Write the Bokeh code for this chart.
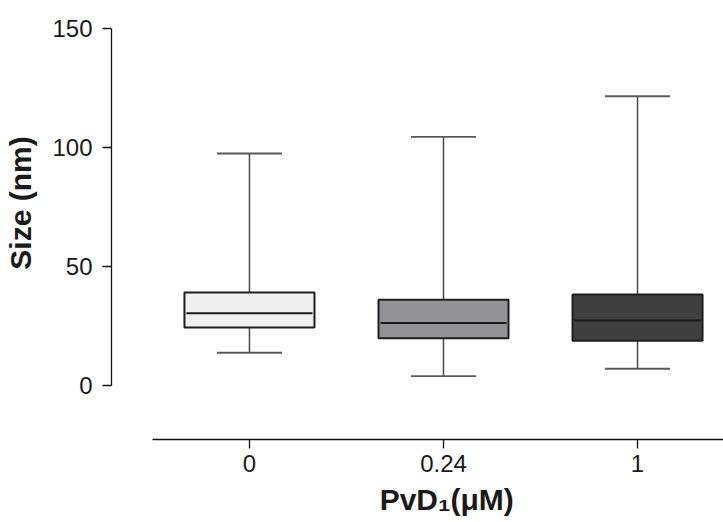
import numpy as np
from bokeh.plotting import figure
from bokeh.models import Range1d, ColumnDataSource, FixedTicker
from bokeh.embed import file_html
from bokeh.resources import INLINE

# ---- data ----
categories = ["0", "0.24", "1"]
whisker_low = [13.9, 4.1, 7.2]
q1 = [24.5, 20.0, 18.9]
median = [30.5, 26.4, 27.4]
q3 = [39.1, 36.1, 38.3]
whisker_high = [97.4, 104.4, 121.4]
y_ticks = [0, 50, 100, 150]

box_colors = ["#f0f0f0", "#939396", "#404040"]
FONT = "Liberation Sans"
NB = "\u00a0"

xpos = np.arange(len(categories), dtype=float)
box_w = 0.67
cap_half = 0.168
med_half = 0.325

src = ColumnDataSource(dict(
    x=xpos, low=whisker_low, q1=q1, med=median, q3=q3, high=whisker_high,
    color=box_colors,
    cx0=xpos - cap_half, cx1=xpos + cap_half,
    mx0=xpos - med_half, mx1=xpos + med_half,
))

p = figure(width=723, height=522, output_backend="svg", toolbar_location=None,
           x_range=Range1d(-0.711, 2.443), y_range=Range1d(-22.46, 154.82),
           min_border_left=111, min_border_right=0, min_border_top=16,
           min_border_bottom=83)
p.background_fill_color = "white"
p.border_fill_color = "white"
p.outline_line_color = None
p.xgrid.visible = False
p.ygrid.visible = False

# whiskers
p.segment("x", "q3", "x", "high", source=src, line_color="#4a4a4a", line_width=1.5)
p.segment("x", "low", "x", "q1", source=src, line_color="#4a4a4a", line_width=1.5)
p.segment("cx0", "high", "cx1", "high", source=src, line_color="#5a5a5a", line_width=1.8)
p.segment("cx0", "low", "cx1", "low", source=src, line_color="#5a5a5a", line_width=1.8)
# boxes
p.vbar(x="x", width=box_w, bottom="q1", top="q3", source=src,
       fill_color="color", line_color="#1e1e1e", line_width=2)
# medians
p.segment("mx0", "med", "mx1", "med", source=src, line_color="#1a1a1a", line_width=2)

# y axis
ya = p.yaxis[0]
ya.ticker = FixedTicker(ticks=y_ticks)
ya.bounds = (0, 150)
ya.axis_line_color = "#111111"
ya.axis_line_width = 1.3
ya.major_tick_line_color = "#111111"
ya.major_tick_line_width = 1.3
ya.major_tick_out = 9
ya.major_tick_in = 0
ya.minor_tick_line_color = None
ya.major_label_text_font = FONT
ya.major_label_text_font_size = "24px"
ya.major_label_text_color = "#1a1a1a"
ya.major_label_standoff = 10
ya.axis_label = NB * 6 + "Size (nm)"
ya.axis_label_text_font = FONT
ya.axis_label_text_font_style = "bold"
ya.axis_label_text_font_size = "30px"
ya.axis_label_text_color = "#1a1a1a"
ya.axis_label_standoff = 12

# x axis
xa = p.xaxis[0]
xa.ticker = FixedTicker(ticks=list(xpos))
xa.major_label_overrides = {float(i): c for i, c in zip(xpos, categories)}
xa.major_label_overrides.update({int(i): c for i, c in zip(xpos, categories)})
xa.bounds = (-0.5, 2.5)
xa.axis_line_color = "#111111"
xa.axis_line_width = 1.3
xa.major_tick_line_color = "#111111"
xa.major_tick_line_width = 1.3
xa.major_tick_out = 9
xa.major_tick_in = 0
xa.minor_tick_line_color = None
xa.major_label_text_font = FONT
xa.major_label_text_font_size = "24px"
xa.major_label_text_color = "#1a1a1a"
xa.major_label_standoff = 6
xa.axis_label = NB * 7 + "PvD\u2081(μM)"
xa.axis_label_text_font = FONT
xa.axis_label_text_font_style = "bold"
xa.axis_label_text_font_size = "30px"
xa.axis_label_text_color = "#1a1a1a"
xa.axis_label_standoff = 8

open("out.html", "w").write(file_html(p, INLINE))
